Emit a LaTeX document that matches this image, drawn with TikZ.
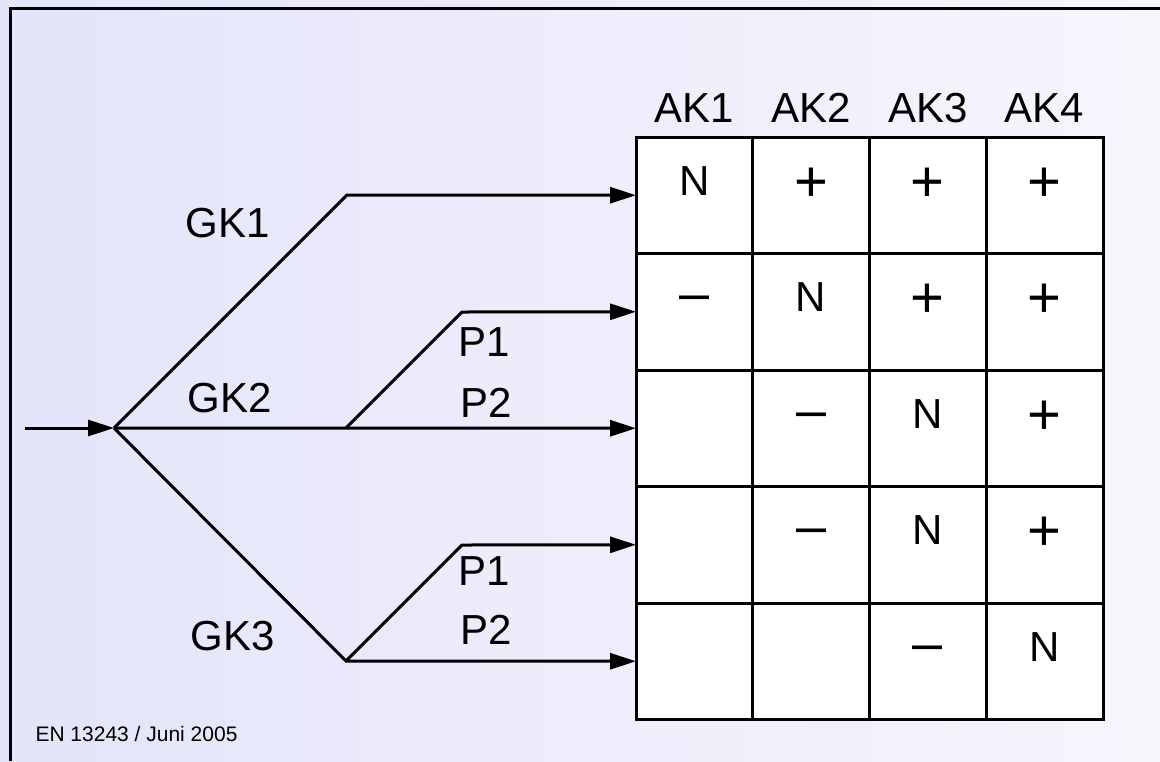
\documentclass[tikz,border=0pt]{standalone}
\usepackage{fontspec}
\setmainfont{Liberation Sans}
\usetikzlibrary{arrows.meta,positioning}
\definecolor{bgleft}{RGB}{228,228,250}
\definecolor{bgright}{RGB}{246,246,253}
\newcommand{\dashsign}{{\fontsize{27}{30}\selectfont –}}
\newcommand{\plussign}{{\fontsize{29}{32}\selectfont\raisebox{-3pt}{+}}}

\begin{document}
\begin{tikzpicture}[x=0.5pt,y=-0.5pt,line width=1.5pt,
	cell/.style={draw,fill=white,minimum width=58.375pt,minimum height=58.25pt,inner sep=0pt,outer sep=0pt},
	sign/.style={anchor=base,inner sep=0pt,font=\fontsize{21}{24}\selectfont},
	lbl/.style={anchor=base,inner sep=0pt,font=\fontsize{21}{24}\selectfont},
	arr/.style={-{Triangle[length=13pt,width=8pt]}}]
	%% background and frame
	\useasboundingbox (0,0) rectangle (1160,761);
	\shade[left color=bgleft,right color=bgright,draw=none] (0,0) rectangle (1160,761);
	\draw (10,761) -- (10,8) -- (1160,8);
	%% the table
	\foreach \r in {1,...,5}
		\foreach \c in {1,...,4}
			\node[cell] (c-\r-\c) at ({636+(\c-0.5)*116.75},{137+(\r-0.5)*116.5}) {};
	\foreach \r/\a/\b/\c/\d in {1/N/\plussign/\plussign/\plussign, 2/\dashsign/N/\plussign/\plussign, 3//\dashsign/N/\plussign, 4//\dashsign/N/\plussign, 5///\dashsign/N}
	{
		\node[sign] (s-\r-1) at (c-\r-1.center) {\a};
		\node[sign] (s-\r-2) at (c-\r-2.center) {\b};
		\node[sign] (s-\r-3) at (c-\r-3.center) {\c};
		\node[sign] (s-\r-4) at (c-\r-4.center) {\d};
	}
	\foreach \c in {1,...,4}
		\node[lbl] (ak\c) at ({636+(\c-0.5)*116.75},122) {AK\c};
	%% the branches
	\coordinate (start) at (25,428);
	\coordinate (split) at (114,428);
	\coordinate (bend1) at (347,195);
	\coordinate (fork2) at (346,428);
	\coordinate (bend2) at (462,312);
	\coordinate (fork3) at (346,661);
	\coordinate (bend3) at (462,545);
	\draw[arr] (start) -- (split);
	\draw[arr] (split) -- (bend1) -- (c-1-1.west);
	\draw[arr] (split) -- (fork2) -- (c-3-1.west);
	\draw[arr] (fork2) -- (bend2) -- (c-2-1.west);
	\draw[arr] (split) -- (fork3) -- (c-5-1.west);
	\draw[arr] (fork3) -- (bend3) -- (c-4-1.west);
	%% labels
	\node[lbl] (gk1) at (228,237) {GK1};
	\node[lbl] (gk2) at (230,412) {GK2};
	\node[lbl] (gk3) at (233,650) {GK3};
	\node[lbl] (p1a) at (484,356) {P1};
	\node[lbl] (p2a) at (486,417) {P2};
	\node[lbl] (p1b) at (484,585) {P1};
	\node[lbl] (p2b) at (486,644) {P2};
	\node[anchor=base west,inner sep=0pt,font=\fontsize{10.5}{12}\selectfont] (src) at (34,741) {EN 13243 / Juni 2005};
\end{tikzpicture}
\end{document}
